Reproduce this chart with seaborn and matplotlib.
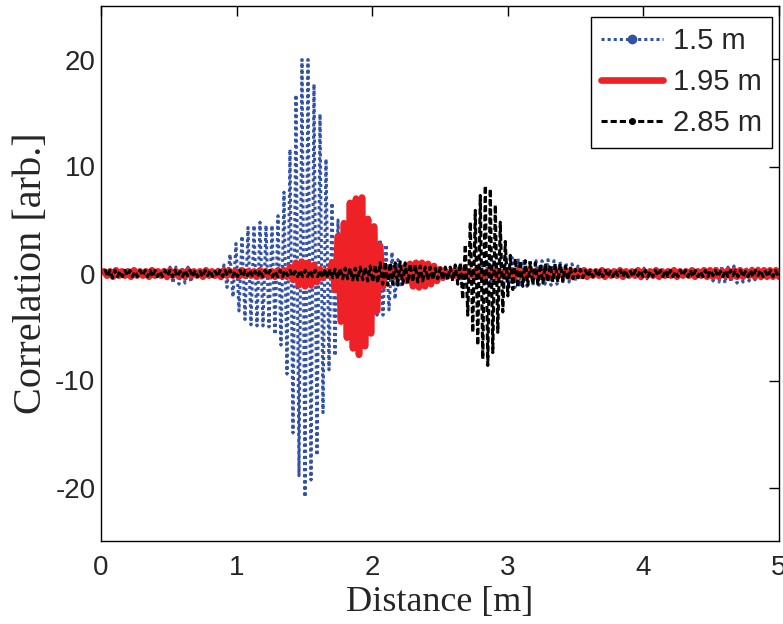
import numpy as np
import matplotlib
matplotlib.use("Agg")
import matplotlib.pyplot as plt
from matplotlib.lines import Line2D
import seaborn as sns

# --- peak values per carrier cycle (upper / lower) ---
# 1.5 m (blue, dotted)
blue_start, blue_period = 0.022, 0.04425
blue_hi = [.3, .2, .3, .3, .2, .3, .3, .2, .3, .3,
           .4, .6, .6, .5, .6, .3, .3, .2, .3, .4,
           .8, 1.8, 2.8, 3.5, 4.3, 4.5, 4.8, 4.5, 4.5, 5.4,
           7.6, 11.6, 16.7, 20.0, 20.0, 17.7, 14.9, 10.7, 6.6, 5.0,
           4.5, 4.2, 4.0, 3.8, 3.6, 3.4, 3.2, 2.7, 2.0, 1.3,
           .9, .6, .4, .3, .3, .3, .3, .3, .3, .5,
           .5, .5, .5, .8, 1.0, 1.2, 1.4, 1.5, 1.5, 1.4,
           1.3, 1.3, 1.2, 1.2, 1.3, 1.2, 1.1, 1.0, .9, .7,
           .5, .3, .3, .3, .3, .3, .3, .3, .3, .5,
           .5, .5, .5, .3, .3, .3, .3, .3, .3, .3,
           .3, .6, .6, .7, .6, .7, .6, .6, .5, .5,
           .4, .3, .3]
blue_lo = [-.3, -.3, -.2, -.3, -.3, -.2, -.3, -.3, -.2, -.3,
           -.5, -.9, -1.0, -.9, -.8, -.3, -.3, -.2, -.3, -.5,
           -1.3, -2.2, -3.5, -4.3, -4.8, -4.9, -4.9, -5.0, -5.7, -6.7,
           -9.4, -14.9, -18.9, -20.9, -19.3, -17.0, -13.0, -9.0, -7.7, -4.6,
           -4.5, -4.3, -4.2, -4.0, -3.9, -3.9, -3.9, -3.4, -2.4, -1.3,
           -.8, -.5, -.3, -.3, -.3, -.3, -.3, -.3, -.3, -.5,
           -.5, -.6, -.6, -.8, -1.0, -1.1, -1.2, -1.3, -1.3, -1.2,
           -1.2, -1.1, -1.1, -1.0, -1.1, -1.0, -.9, -.8, -.7, -.6,
           -.4, -.3, -.3, -.3, -.3, -.3, -.3, -.3, -.3, -.5,
           -.5, -.5, -.4, -.3, -.3, -.3, -.3, -.3, -.3, -.3,
           -.4, -.7, -.8, -.9, -.8, -.9, -.8, -.7, -.6, -.5,
           -.4, -.3, -.3]

# 1.95 m (red, thick solid)
red_start, red_period = 0.022, 0.04425
red_hi = [.2, .2, .3, .2, .2, .3, .2, .2, .3, .2,
          .2, .3, .2, .2, .3, .2, .2, .3, .2, .2,
          .3, .2, .2, .3, .2, .2, .3, .2, .2, .3,
          .3, .6, 1.0, 1.1, 1.0, .8, .4, .2, 1.0, 3.5,
          4.7, 6.6, 7.0, 7.1, 5.1, 4.4, 2.6, .6, .3, .2,
          .5, .9, 1.0, 1.0, .9, .7, .4, .2, .2, .3,
          .2, .2, .3, .2, .2, .3, .2, .2, .3, .2,
          .2, .3, .2, .2, .3, .2, .2, .3, .2, .2,
          .3, .2, .2, .3, .2, .2, .3, .2, .2, .3,
          .2, .2, .3, .2, .2, .3, .2, .2, .3, .2,
          .3, .3, .3, .2, .3, .3, .3, .2, .3, .3,
          .3, .3, .3]
red_lo = [-.2, -.3, -.2, -.2, -.3, -.2, -.2, -.3, -.2, -.2,
          -.3, -.2, -.2, -.3, -.2, -.2, -.3, -.2, -.2, -.3,
          -.2, -.2, -.3, -.2, -.2, -.3, -.2, -.2, -.3, -.2,
          -.3, -.6, -1.1, -1.2, -1.1, -.8, -.4, -.2, -1.5, -4.5,
          -6.0, -7.0, -7.6, -6.8, -5.6, -3.5, -1.2, -.3, -.2, -.2,
          -.7, -1.2, -1.3, -1.2, -1.0, -.7, -.4, -.2, -.2, -.3,
          -.2, -.2, -.3, -.2, -.2, -.3, -.2, -.2, -.3, -.2,
          -.2, -.3, -.2, -.2, -.3, -.2, -.2, -.3, -.2, -.2,
          -.3, -.2, -.2, -.3, -.2, -.2, -.3, -.2, -.2, -.3,
          -.2, -.2, -.3, -.2, -.2, -.3, -.2, -.2, -.3, -.2,
          -.3, -.3, -.3, -.2, -.3, -.3, -.3, -.2, -.3, -.3,
          -.3, -.3, -.3]

# 2.85 m (black, dashed)
black_start, black_period = 0.0295, 0.0369
black_hi = [.4, .3, .3, .2, .3, .3, .2, .3, .3, .3,
            .3, .2, .3, .3, .3, .2, .3, .3, .3, .2,
            .3, .3, .2, .3, .3, .3, .2, .3, .3, .3,
            .2, .3, .3, .3, .2, .3, .3, .3, .2, .3,
            .3, .3, .3, .3, .4, .4, .4, .5, .5, .5,
            .5, .6, .6, .7, .8, 1.0, 1.1, 1.0, 1.0, 1.1,
            1.0, .9, .8, .7, .6, .6, .5, .5, .6, .6,
            .8, 1.0, 2.7, 4.8, 5.9, 7.3, 8.2, 7.9, 6.4, 4.8,
            3.0, 1.7, 1.4, 1.2, 1.2, 1.0, 1.0, .9, .8, .8,
            .9, .9, .7, .5, .4, .4, .3, .3, .3, .3,
            .3, .2, .3, .3, .3, .2, .3, .3, .3, .2,
            .3, .3, .3, .3, .2, .3, .3, .3, .3, .2,
            .3, .3, .3, .2, .3, .3, .3, .3, .2, .3,
            .3, .3, .2, .3, .3]
black_lo = [-.3, -.4, -.3, -.3, -.2, -.3, -.3, -.2, -.3, -.3,
            -.3, -.3, -.2, -.3, -.3, -.3, -.2, -.3, -.3, -.3,
            -.2, -.3, -.3, -.3, -.2, -.3, -.3, -.3, -.2, -.3,
            -.3, -.3, -.2, -.3, -.3, -.3, -.2, -.3, -.3, -.3,
            -.3, -.3, -.3, -.4, -.4, -.4, -.5, -.5, -.5, -.6,
            -.6, -.6, -.7, -.8, -.9, -1.0, -1.1, -1.0, -1.1, -1.0,
            -.9, -.8, -.8, -.7, -.6, -.6, -.5, -.6, -.6, -.7,
            -1.0, -2.4, -3.9, -5.5, -6.7, -8.0, -8.6, -7.4, -5.5, -3.6,
            -2.1, -1.5, -1.3, -1.2, -1.1, -1.0, -1.0, -.9, -.8, -.8,
            -.8, -.7, -.6, -.5, -.4, -.4, -.3, -.3, -.3, -.3,
            -.3, -.3, -.2, -.3, -.3, -.3, -.2, -.3, -.3, -.3,
            -.2, -.3, -.3, -.3, -.3, -.2, -.3, -.3, -.3, -.3,
            -.3, -.2, -.3, -.3, -.3, -.2, -.3, -.3, -.3, -.3,
            -.2, -.3, -.3, -.3, -.2]

labels = ["1.5 m", "1.95 m", "2.85 m"]
xticks = [0, 1, 2, 3, 4, 5]
yticks = [-20, -10, 0, 10, 20]


def trace(start, period, hi, lo):
    # upper peaks at start + k*period, lower peaks half a cycle later
    n = min(len(hi), len(lo))
    k = np.arange(n)
    x = np.empty(2 * n)
    y = np.empty(2 * n)
    x[0::2] = start + k * period
    x[1::2] = start + (k + 0.5) * period
    y[0::2] = hi[:n]
    y[1::2] = lo[:n]
    return x, y


sns.set_style("white")
plt.rcParams['font.family'] = ['Liberation Sans', 'DejaVu Sans']

fig = plt.figure(figsize=(7.83, 6.24), dpi=100)
ax = fig.add_axes([101 / 783, 83 / 624, 678 / 783, 535 / 624])

c_blue, c_red, c_black = "#3352a6", "#ee2226", "#000000"

bx, by = trace(blue_start, blue_period, blue_hi, blue_lo)
rx, ry = trace(red_start, red_period, red_hi, red_lo)
kx, ky = trace(black_start, black_period, black_hi, black_lo)

sns.lineplot(x=bx, y=by, ax=ax, sort=False, estimator=None, color=c_blue,
             linewidth=2.2, linestyle=(0, (1, 1)))
sns.lineplot(x=rx, y=ry, ax=ax, sort=False, estimator=None, color=c_red,
             linewidth=4.8)
sns.lineplot(x=kx, y=ky, ax=ax, sort=False, estimator=None, color=c_black,
             linewidth=2.2, linestyle=(0, (2, 1)))

ax.set_xlim(0, 5)
ax.set_ylim(-25, 25)
ax.set_xticks(xticks)
ax.set_yticks(yticks)
ax.set_xticklabels([str(t) for t in xticks], fontsize=20)
ax.set_yticklabels([str(t) for t in yticks], fontsize=20)
ax.tick_params(direction="in", top=True, right=True, length=7, width=1,
               color="black")
ax.tick_params(axis="x", pad=10)
ax.tick_params(axis="y", pad=4)
for s in ax.spines.values():
    s.set_visible(True)
    s.set_color("black")
    s.set_linewidth(1)

ax.set_xlabel("Distance [m]", fontsize=26, family=["Liberation Serif"], labelpad=4)
ax.set_ylabel("Correlation [arb.]", fontsize=29, family=["Liberation Serif"], labelpad=4)

handles = [
    Line2D([], [], color=c_blue, linewidth=2.2, linestyle=(0, (1, 1)),
           marker="o", markersize=6),
    Line2D([], [], color=c_red, linewidth=4.8),
    Line2D([], [], color=c_black, linewidth=2.2, linestyle=(0, (2, 1)),
           marker="o", markersize=4),
]
leg = ax.legend(handles, labels, loc="upper right", fontsize=21,
                frameon=True, fancybox=False, framealpha=1, edgecolor="black",
                handlelength=2.1, handletextpad=0.35, borderpad=0.35,
                labelspacing=0.45, borderaxespad=0,
                bbox_to_anchor=(0.9897, 0.9794))
leg.get_frame().set_linewidth(1)

fig.savefig("out.png", dpi=100)
